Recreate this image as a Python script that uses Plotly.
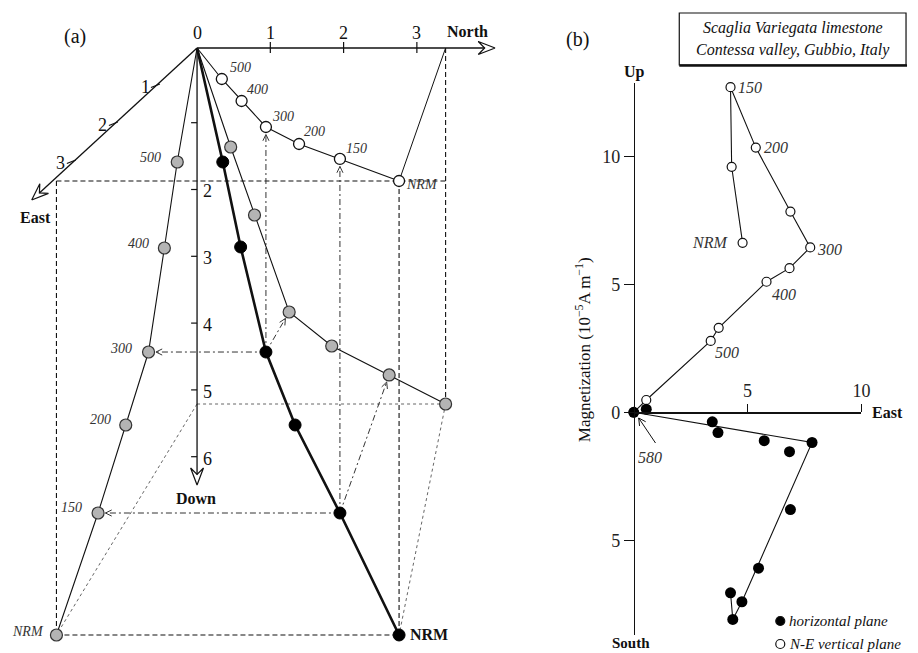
import math
import plotly.graph_objects as go

W, H = 918, 653
SERIF = "Liberation Serif"
INK = "#111111"

# ===================== DATA =====================
# Panel (a): projections drawn in the diagram's own units
# (x: North-axis units, y: Down-axis units), order NRM -> 500 -> origin
steps_a = ["NRM", "150", "200", "300", "400", "500", ""]
hz_x = [2.757, 1.95, 1.392, 0.94, 0.608, 0.338, 0.0]      # horizontal-plane projection (open)
hz_y = [1.970, 1.644, 1.422, 1.170, 0.785, 0.459, 0.0]
vec_x = [2.757, 1.95, 1.338, 0.94, 0.595, 0.351, 0.0]     # vector end points (black)
vec_y = [8.696, 6.889, 5.585, 4.504, 2.948, 1.689, 0.0]
nd_x = [3.392, 2.622, 1.838, 1.257, 0.784, 0.459, 0.0]    # N-Down plane projection (grey, right)
nd_y = [5.274, 4.844, 4.415, 3.911, 2.474, 1.467, 0.0]
ed_x = [-1.919, -1.351, -0.973, -0.662, -0.446, -0.270, 0.0]  # E-Down plane projection (grey, left)
ed_y = [8.696, 6.889, 5.585, 4.504, 2.963, 1.689, 0.0]
construction_steps = ["300", "150"]

north_ticks = [1, 2, 3]
north_ticklabels = ["1", "2", "3"]
down_ticks = [1, 2, 3, 4, 5, 6]
down_ticklabels = ["", "2", "3", "4", "5", "6"]
east_ticks = [1, 2, 3]
east_ticklabels = ["1", "2", "3"]

# Panel (b): orthogonal vector diagram (10^-5 A/m)
vert_east = [4.78, 4.30, 4.25, 5.36, 6.88, 7.75, 6.84, 5.83, 3.73, 3.38, 0.55, 0.0]
vert_up = [6.62, 9.59, 12.70, 10.34, 7.84, 6.44, 5.63, 5.10, 3.30, 2.79, 0.48, 0.0]
vert_labels = ["NRM", "", "150", "200", "", "300", "", "400", "", "500", "", ""]
hor_east = [4.75, 4.35, 4.25, 5.48, 6.88, 7.83, 6.84, 5.73, 3.70, 3.45, 0.55, 0.0]
hor_north = [-7.40, -8.09, -7.05, -6.09, -3.80, -1.18, -1.54, -1.11, -0.79, -0.37, 0.12, 0.0]
hor_path = [11, 5, 0, 1, 2]
b_yticks = [-5, 0, 5, 10]
b_yticklabels = ["5", "0", "5", "10"]
b_xticks = [5, 10]
b_xticklabels = ["5", "10"]

# ===================== GEOMETRY HELPERS =====================
AX0, AY0, ASX, ASY = 199.0, 48.0, 74.0, 67.5       # panel (a) pixel frame
BX0, BY0, BSX, BSY = 640.0, 412.3, 23.0, 25.6      # panel (b) pixel frame


def a_px(x, y):
    return (AX0 + ASX * x, AY0 + ASY * y)


def a_dat(px, py):
    return ((px - AX0) / ASX, (py - AY0) / ASY)


def b_dat(px, py):
    return ((px - BX0) / BSX, (BY0 - py) / BSY)


fig = go.Figure()


def seg(xs, ys, ax="a", width=1.0, color=INK, dash="solid"):
    fig.add_trace(go.Scatter(
        x=xs, y=ys, mode="lines",
        line=dict(width=width, color=color, dash=dash),
        xaxis="x" if ax == "a" else "x2", yaxis="y" if ax == "a" else "y2",
        hoverinfo="skip", showlegend=False, cliponaxis=False))


def seg_px(pts, ax="a", **kw):
    conv = a_dat if ax == "a" else b_dat
    d = [conv(*p) for p in pts]
    seg([p[0] for p in d], [p[1] for p in d], ax=ax, **kw)


def unit(dx, dy):
    n = math.hypot(dx, dy)
    return dx / n, dy / n


def chevron(tip, frm, length=7.0, half_angle=28):
    ux, uy = unit(frm[0] - tip[0], frm[1] - tip[1])
    pts = []
    for s in (1, -1):
        a = math.radians(half_angle * s)
        rx = ux * math.cos(a) - uy * math.sin(a)
        ry = ux * math.sin(a) + uy * math.cos(a)
        pts.append((tip[0] + length * rx, tip[1] + length * ry))
    return [pts[0], tip, pts[1]]


def open_head(tip, frm, length=17.0, half=6.5, notch=0.62):
    ux, uy = unit(tip[0] - frm[0], tip[1] - frm[1])
    nx, ny = -uy, ux
    bx, by = tip[0] - length * ux, tip[1] - length * uy
    p1 = (bx + half * nx, by + half * ny)
    p2 = (bx - half * nx, by - half * ny)
    nt = (tip[0] - notch * length * ux, tip[1] - notch * length * uy)
    return [tip, p1, nt, p2, tip], nt


annotations = []


def ann_px(text, px, py, size=15, xanchor="center", yanchor="middle", color=INK, angle=0):
    annotations.append(dict(text=text, x=px / W, y=1 - py / H, xref="paper", yref="paper",
                            showarrow=False, xanchor=xanchor, yanchor=yanchor, textangle=angle,
                            font=dict(family=SERIF, size=size, color=color)))


def ann_dat(text, x, y, ax="a", dx=0, dy=0, size=14, xanchor="left", color="#333"):
    annotations.append(dict(text=text, x=x, y=y, xref="x" if ax == "a" else "x2",
                            yref="y" if ax == "a" else "y2", showarrow=False,
                            xanchor=xanchor, yanchor="middle", xshift=dx, yshift=-dy,
                            font=dict(family=SERIF, size=size, color=color)))


# ===================== PANEL (a) =====================
O = a_px(0, 0)
# construction lines (derived from the NRM projections)
i0 = 0
pE = (ed_x[i0], hz_y[i0])
pN = (nd_x[i0], 0.0)
pD = (0.0, nd_y[i0])
LD = "5px,3px"
seg([pE[0], nd_x[i0]], [pE[1], hz_y[i0]], width=1.1, dash=LD)
seg([pE[0], ed_x[i0]], [pE[1], ed_y[i0]], width=1.1, dash=LD)
seg([ed_x[i0], vec_x[i0]], [ed_y[i0], vec_y[i0]], width=1.1, dash=LD)
seg([hz_x[i0], vec_x[i0]], [hz_y[i0], vec_y[i0]], width=1.1, dash=LD)
seg([pN[0], nd_x[i0]], [pN[1], nd_y[i0]], width=1.1, dash=LD)
FD = "3px,3px"
seg([pD[0], nd_x[i0]], [pD[1], nd_y[i0]], width=0.9, color="#555", dash=FD)
seg([pD[0], ed_x[i0]], [pD[1], ed_y[i0]], width=0.9, color="#555", dash=FD)
seg([nd_x[i0], vec_x[i0]], [nd_y[i0], vec_y[i0]], width=0.9, color="#555", dash=FD)
seg([hz_x[i0], pN[0]], [hz_y[i0], pN[1]], width=1.0)

# dash-dot projection arrows for selected steps
DD = "6px,3px,2px,3px"
for st in construction_steps:
    i = steps_a.index(st)
    src = a_px(vec_x[i], vec_y[i])
    for tx, ty in ((hz_x[i], hz_y[i]), (ed_x[i], ed_y[i]), (nd_x[i], nd_y[i])):
        tgt = a_px(tx, ty)
        ux, uy = unit(tgt[0] - src[0], tgt[1] - src[1])
        tip = (tgt[0] - 7.5 * ux, tgt[1] - 7.5 * uy)
        seg_px([src, tip], width=1.0, color="#333", dash=DD)
        seg_px(chevron(tip, src, 7, 26), width=1.0, color="#333")

# axes of panel (a)
north_tip = (500.0, AY0)
down_tip = (AX0, 485.0)
east_tip = (32.0, 200.0)
for tip in (north_tip, down_tip, east_tip):
    head, nt = open_head(tip, O)
    seg_px([O, nt], width=1.3)
    seg_px(head, width=1.2)

for k, lab in zip(north_ticks, north_ticklabels):
    px = AX0 + ASX * k
    seg_px([(px, AY0 - 6), (px, AY0 + 5)], width=1.2)
    ann_px(lab, px, 33, size=18)
ann_px("0", AX0, 33, size=18)
for k, lab in zip(down_ticks, down_ticklabels):
    py = 55.9 + 66.8 * k
    seg_px([(AX0 - 6, py), (AX0, py)], width=1.2)
    if lab:
        ann_px(lab, 203, py + 2, size=18, xanchor="left")
EUX, EUY = -42.5, 38.0
for k, lab in zip(east_ticks, east_ticklabels):
    cx, cy = AX0 + EUX * k, AY0 + EUY * k
    seg_px([(cx - 4, cy + 1.5), (cx + 5, cy - 2)], width=1.2)
    ann_px(lab, cx - 10, cy + 1, size=18)
ann_px("<b>North</b>", 472, 31, size=16)
ann_px("<b>East</b>", 36, 217, size=16)
ann_px("<b>Down</b>", 198, 498, size=16)
ann_px("(a)", 76, 37, size=20)

# projection paths
seg(hz_x, hz_y, width=1.1)
seg(nd_x, nd_y, width=1.1)
seg(ed_x, ed_y, width=1.1)
seg(vec_x, vec_y, width=2.6)

n_pts = len(steps_a) - 1
fig.add_trace(go.Scatter(x=hz_x[:n_pts], y=hz_y[:n_pts], mode="markers", xaxis="x", yaxis="y",
                         marker=dict(size=11, color="white", line=dict(color=INK, width=1.3)),
                         hoverinfo="skip", showlegend=False, cliponaxis=False))
for xs, ys in ((nd_x, nd_y), (ed_x, ed_y)):
    fig.add_trace(go.Scatter(x=xs[:n_pts], y=ys[:n_pts], mode="markers", xaxis="x", yaxis="y",
                             marker=dict(size=12, color="#b4b4b4", line=dict(color="#333", width=1.2)),
                             hoverinfo="skip", showlegend=False, cliponaxis=False))
fig.add_trace(go.Scatter(x=vec_x[:n_pts], y=vec_y[:n_pts], mode="markers", xaxis="x", yaxis="y",
                         marker=dict(size=12, color="#000", line=dict(color="#000", width=1)),
                         hoverinfo="skip", showlegend=False, cliponaxis=False))

open_off = [(5, 4), (4, -10), (3, -12), (4, -10), (3, -11), (6, -11)]
ed_off = [(-10, -3), (-14, -6), (-13, -5), (-15, -4), (-13, -5), (-14, -5)]
for i in range(n_pts):
    lab = "<i>%s</i>" % steps_a[i]
    ann_dat(lab, hz_x[i], hz_y[i], dx=open_off[i][0], dy=open_off[i][1], xanchor="left")
    ann_dat(lab, ed_x[i], ed_y[i], dx=ed_off[i][0], dy=ed_off[i][1], xanchor="right")
ann_dat("<b>NRM</b>", vec_x[0], vec_y[0], dx=9, dy=0, size=16, xanchor="left", color=INK)

# ===================== PANEL (b) =====================
fig.add_trace(go.Scatter(x=vert_east, y=vert_up, mode="lines", xaxis="x2", yaxis="y2",
                         line=dict(color=INK, width=1.1), hoverinfo="skip", showlegend=False))
fig.add_trace(go.Scatter(x=[hor_east[i] for i in hor_path], y=[hor_north[i] for i in hor_path],
                         mode="lines", xaxis="x2", yaxis="y2",
                         line=dict(color=INK, width=1.1), hoverinfo="skip", showlegend=False))
fig.add_trace(go.Scatter(x=vert_east, y=vert_up, mode="markers", xaxis="x2", yaxis="y2",
                         marker=dict(size=9, color="white", line=dict(color=INK, width=1.2)),
                         hoverinfo="skip", showlegend=False, cliponaxis=False))
fig.add_trace(go.Scatter(x=hor_east, y=hor_north, mode="markers", xaxis="x2", yaxis="y2",
                         marker=dict(size=11, color="#000"),
                         hoverinfo="skip", showlegend=False, cliponaxis=False))

vlab_off = {"NRM": (-13, 0, "right"), "150": (5, 0, "left"), "200": (6, 0, "left"),
            "300": (5, 2, "left"), "400": (3, 13, "left"), "500": (2, 12, "left")}
for e, u, lab in zip(vert_east, vert_up, vert_labels):
    if lab:
        dx, dy, xa = vlab_off[lab]
        ann_dat("<i>%s</i>" % lab, e, u, ax="b", dx=dx, dy=dy, size=16, xanchor=xa)

# 580 pointer
tail, tip = (662.0, 443.0), (645.0, 418.0)
seg_px([tail, tip], ax="b", width=1.0)
seg_px(chevron(tip, tail, 8, 28), ax="b", width=1.0)
ann_px("<i>580</i>", 642, 458, size=16, xanchor="left", color="#333")

ann_px("<b>Up</b>", 641, 72, size=16)
ann_px("<b>South</b>", 637, 643, size=15)
ann_px("<b>East</b>", 896, 412, size=16)
ann_px("(b)", 583, 40, size=20)
ann_px("Magnetization (10<sup>\u22125</sup>A m<sup>\u22121</sup>)", 589, 350, size=17, angle=-90)

# title box
ann_px("<i>Scaglia Variegata limestone</i>", 801, 28, size=16)
ann_px("<i>Contessa valley, Gubbio, Italy</i>", 801, 50, size=16)
shapes = [
    dict(type="rect", xref="paper", yref="paper", x0=686 / W, x1=915 / W, y0=1 - 65 / H, y1=1 - 13 / H,
         line=dict(color=INK, width=1.2)),
    dict(type="line", xref="paper", yref="paper", x0=686 / W, x1=916 / W, y0=1 - 65.5 / H, y1=1 - 65.5 / H,
         line=dict(color=INK, width=2.4)),
]
# legend keys
for py, filled in ((621, True), (644, False)):
    cx, cy = 788 / W, 1 - py / H
    shapes.append(dict(type="circle", xref="paper", yref="paper", xsizemode="pixel", ysizemode="pixel",
                       xanchor=cx, yanchor=cy, x0=-4.5, x1=4.5, y0=-4.5, y1=4.5,
                       fillcolor="#000" if filled else "white", line=dict(color=INK, width=1.2)))
ann_px("<i>horizontal plane</i>", 795, 621, size=15, xanchor="left")
ann_px("<i>N-E vertical plane</i>", 795, 644, size=15, xanchor="left")

# ===================== LAYOUT =====================
fig.update_layout(
    width=W, height=H, autosize=False,
    margin=dict(l=0, r=0, t=0, b=0),
    paper_bgcolor="white", plot_bgcolor="rgba(0,0,0,0)",
    showlegend=False,
    xaxis=dict(domain=[0, 1], range=[-AX0 / ASX, (W - AX0) / ASX], visible=False, fixedrange=True),
    yaxis=dict(domain=[0, 1], range=[(H - AY0) / ASY, -AY0 / ASY], visible=False, fixedrange=True),
    xaxis2=dict(domain=[BX0 / W, 870 / W], range=[0, 10], anchor="free", position=(H - BY0) / H,
                side="top", showline=True, linecolor=INK, linewidth=1.3, ticks="outside", ticklen=8,
                tickwidth=1.3, tickcolor=INK, tickvals=b_xticks, ticktext=b_xticklabels,
                tickfont=dict(family=SERIF, size=18, color="#222"), showgrid=False, zeroline=False,
                fixedrange=True),
    yaxis2=dict(domain=[(H - 635) / H, (H - 83) / H], range=[(BY0 - 635) / BSY, (BY0 - 83) / BSY],
                anchor="free", position=BX0 / W, showline=True, linecolor=INK, linewidth=1.3,
                ticks="outside", ticklen=10, tickwidth=1.3, tickcolor=INK, tickvals=b_yticks,
                ticktext=b_yticklabels, tickfont=dict(family=SERIF, size=18, color="#222"),
                showgrid=False, zeroline=False, fixedrange=True),
    annotations=annotations,
    shapes=shapes,
)

fig.write_html("out.html", config={"displayModeBar": False, "staticPlot": True},
               post_script="document.body.style.margin='0';document.body.style.overflow='hidden';")
